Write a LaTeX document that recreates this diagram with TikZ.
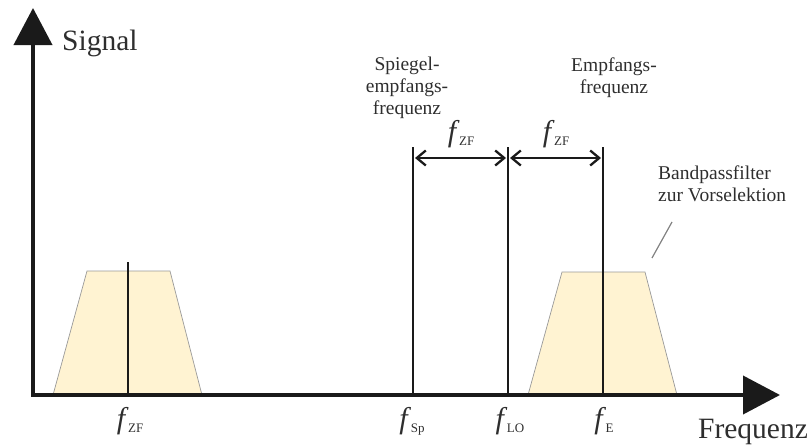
\documentclass[tikz,border=0pt]{standalone}
\usepackage{fontspec}
\setmainfont{Liberation Serif}
\usetikzlibrary{arrows.meta}
\definecolor{txt}{HTML}{2E2E2E}
\definecolor{ink}{HTML}{1A1A1A}
\definecolor{cream}{HTML}{FFF3D2}
\newcommand{\fsym}[1]{\textit{f}\kern-0.5pt\raisebox{-4pt}{\fontsize{13}{13}\selectfont #1}}
\begin{document}
\begin{tikzpicture}[x=1pt,y=-1pt,
  axis/.style={draw=ink,line width=4pt,-{Triangle[length=37pt,width=38pt]}},
  sigline/.style={draw=ink,line width=2.3pt},
  dimarrow/.style={draw=ink,line width=2.3pt,{Straight Barb[length=9pt,width=15pt]}-{Straight Barb[length=9pt,width=15pt]}},
  filter/.style={fill=cream,draw=black!40,line width=0.7pt},
  biglabel/.style={text=txt,font=\fontsize{29.5}{31}\selectfont,inner sep=0pt},
  smalllabel/.style={text=txt,font=\fontsize{19.5}{22}\selectfont,align=center,inner sep=0pt},
  flabel/.style={text=txt,font=\fontsize{30}{30}\selectfont,inner sep=0pt},
  leader/.style={draw=black!50,line width=1.2pt}]
\useasboundingbox (0,0) rectangle (812,447);
% filters
\path[filter] (53,395) -- (87,271) -- (170,271) -- (202,395) -- cycle;
\path[filter] (528,395) -- (562,272) -- (645,272) -- (677,395) -- cycle;
% coordinates
\coordinate (o) at (33,395);
\coordinate (ytip) at (33,8);
\coordinate (xstart) at (31,395);
\coordinate (xtip) at (780,395);
\coordinate (zfb) at (128,395); \coordinate (zft) at (128,262);
\coordinate (spb) at (413,395); \coordinate (spt) at (413,147);
\coordinate (lob) at (508,395); \coordinate (lot) at (508,147);
\coordinate (eb) at (603,395);  \coordinate (et) at (603,147);
\coordinate (d1a) at (415,158); \coordinate (d1b) at (506,158);
\coordinate (d2a) at (510,158); \coordinate (d2b) at (601,158);
% signal lines
\draw[sigline] (zfb) -- (zft);
\draw[sigline] (spb) -- (spt);
\draw[sigline] (lob) -- (lot);
\draw[sigline] (eb) -- (et);
% dimension arrows
\draw[dimarrow] (d1a) -- (d1b);
\draw[dimarrow] (d2a) -- (d2b);
% axes
\draw[axis] (o) -- (ytip);
\draw[axis] (xstart) -- (xtip);
% labels
\node[biglabel,anchor=base west] (signal) at (62,50) {Signal};
\node[biglabel,anchor=base] (freq) at (753,438) {Frequenz};
\node[smalllabel] (spiegel) at (407,88) {Spiegel-\\empfangs-\\frequenz};
\node[smalllabel] (empf) at (614,78) {Empfangs-\\frequenz};
\node[smalllabel,align=left,anchor=north west] (bpf) at (658,166) {Bandpassfilter\\zur Vorselektion};
\node[flabel,anchor=base] (fzf1) at (461,141) {\fsym{ZF}};
\node[flabel,anchor=base] (fzf2) at (556,141) {\fsym{ZF}};
\node[flabel,anchor=base] (fzf) at (130,428) {\fsym{ZF}};
\node[flabel,anchor=base] (fsp) at (412,428) {\fsym{Sp}};
\node[flabel,anchor=base] (flo) at (510,428) {\fsym{LO}};
\node[flabel,anchor=base] (fe) at (604,428) {\fsym{E}};
\coordinate (lt) at (672,222); \coordinate (lb) at (652,258);
\draw[leader] (lt) -- (lb);
\end{tikzpicture}
\end{document}
